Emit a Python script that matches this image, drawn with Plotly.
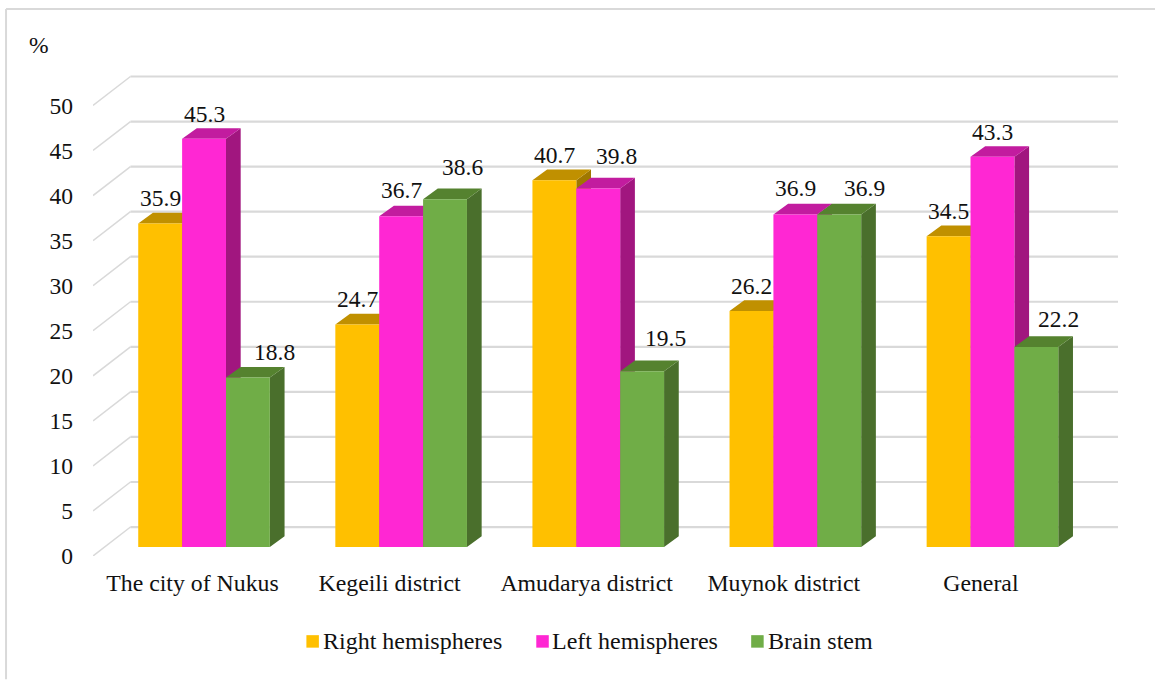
import plotly.graph_objects as go

categories = ["The city of Nukus", "Kegeili district", "Amudarya district", "Muynok district", "General"]
y_ticks = [0, 5, 10, 15, 20, 25, 30, 35, 40, 45, 50]
right_hemispheres = [35.9, 24.7, 40.7, 26.2, 34.5]
left_hemispheres = [45.3, 36.7, 39.8, 36.9, 43.3]
brain_stem = [18.8, 38.6, 19.5, 36.9, 22.2]
series_names = ["Right hemispheres", "Left hemispheres", "Brain stem"]
series_values = [right_hemispheres, left_hemispheres, brain_stem]

front_colors = ["#FFC000", "#FF27D3", "#70AD47"]
top_colors = ["#C09000", "#C21C9F", "#55822F"]
side_colors = ["#A07800", "#A1167F", "#4A6F2C"]

# data-label nudges in pixels, relative to the front-top centre of each bar
label_dx = [[0, 0, 0, 0, 0], [0, 0, 18, 0, 0], [27, 17, 23, 25, 22]]
label_up = [[26, 25, 25, 25, 25], [25, 26, 32, 27, 25], [26, 32, 33, 27, 28]]

# legend placement, in pixels
legend_swatch_px = [306, 536, 751]
legend_text_px = [323, 552, 768]
LEGEND_Y_PX = 642
SWATCH_PX = 12.5

# geometry of the picture, in pixels
W, H = 1155, 680
PL, PR, PT, PB = 92.5, 1118.0, 70.0, 556.5
PX_PER_UNIT = 9.02
PX_PER_CAT = 197.2
CAT0_PX = 203.6
BAR_BASE_PX = 547.5
BAR_W = 43.9 / PX_PER_CAT
DEPTH_X = 14.7 / PX_PER_CAT
DEPTH_Y = 10.7 / PX_PER_UNIT
WALL_X = 37.5 / PX_PER_CAT
WALL_Y = 29.0 / PX_PER_UNIT
TICK_LABEL_SHIFT = 11.6 / PX_PER_CAT

x_min = (PL - CAT0_PX) / PX_PER_CAT
x_max = (PR - CAT0_PX) / PX_PER_CAT
y_top = (PB - PT) / PX_PER_UNIT
y2_bottom = (BAR_BASE_PX - PB) / PX_PER_UNIT
y2_top = (BAR_BASE_PX - PT) / PX_PER_UNIT
positions = list(range(len(categories)))
GRID = "#D9D9D9"
FONT = "Liberation Serif"
INK = "#111111"

px_x = lambda px: (px - PL) / (PR - PL)
px_y = lambda px: (PB - px) / (PB - PT)

fig = go.Figure()

# wall gridlines and floor-to-wall diagonals
wall_x, wall_y, diag_x, diag_y = [], [], [], []
for t in y_ticks:
    wall_x += [x_min + WALL_X, x_max, None]
    wall_y += [t + WALL_Y, t + WALL_Y, None]
    diag_x += [x_min, x_min + WALL_X, None]
    diag_y += [t, t + WALL_Y, None]
fig.add_trace(go.Scatter(x=wall_x, y=wall_y, mode="lines", line=dict(color=GRID, width=2.2),
                         hoverinfo="skip", showlegend=False, yaxis="y"))
fig.add_trace(go.Scatter(x=diag_x, y=diag_y, mode="lines", line=dict(color=GRID, width=1.5),
                         hoverinfo="skip", showlegend=False, yaxis="y"))

# bars and their depth faces
for k, (name, values) in enumerate(zip(series_names, series_values)):
    shift = (k - 1.5) * BAR_W
    top_x, top_y, side_x, side_y = [], [], [], []
    for p, v in zip(positions, values):
        xl, xr = p + shift, p + shift + BAR_W
        top_x += [xl, xl + DEPTH_X, xr + DEPTH_X, xr, xl, None]
        top_y += [v, v + DEPTH_Y, v + DEPTH_Y, v, v, None]
        side_x += [xr, xr + DEPTH_X, xr + DEPTH_X, xr, xr, None]
        side_y += [0, DEPTH_Y, v + DEPTH_Y, v, 0, None]
    fig.add_trace(go.Scatter(x=side_x, y=side_y, mode="lines", fill="toself", fillcolor=side_colors[k],
                             line=dict(width=0), hoverinfo="skip", showlegend=False, yaxis="y2",
                             zorder=2 * k))
    fig.add_trace(go.Scatter(x=top_x, y=top_y, mode="lines", fill="toself", fillcolor=top_colors[k],
                             line=dict(width=0), hoverinfo="skip", showlegend=False, yaxis="y2",
                             zorder=2 * k))
    fig.add_trace(go.Bar(x=positions, y=values, name=name, showlegend=False,
                         marker=dict(color=front_colors[k], line=dict(width=0)),
                         width=BAR_W, offset=shift, yaxis="y2", zorder=2 * k + 1))
    for p, v, dx, up in zip(positions, values, label_dx[k], label_up[k]):
        fig.add_annotation(x=p + shift + BAR_W / 2, y=v, xref="x", yref="y2", text=f"{v:.1f}", showarrow=False,
                           xshift=dx, yshift=up, font=dict(family=FONT, size=23.5, color=INK))
    # legend entry
    fig.add_shape(type="rect", xref="paper", yref="paper",
                  x0=px_x(legend_swatch_px[k]), x1=px_x(legend_swatch_px[k] + SWATCH_PX),
                  y0=px_y(LEGEND_Y_PX - SWATCH_PX / 2), y1=px_y(LEGEND_Y_PX + SWATCH_PX / 2),
                  fillcolor=front_colors[k], line=dict(width=0))
    fig.add_annotation(x=px_x(legend_text_px[k]), y=px_y(LEGEND_Y_PX), xref="paper", yref="paper", text=name,
                       showarrow=False, xanchor="left", yanchor="middle", borderpad=0, borderwidth=0,
                       font=dict(family=FONT, size=24, color=INK))

fig.add_annotation(x=px_x(38), y=px_y(45), xref="paper", yref="paper", text="%", xanchor="center", yanchor="middle",
                   showarrow=False, font=dict(family=FONT, size=23.5, color=INK))

# chart border: top and left edges only
fig.add_shape(type="line", xref="paper", yref="paper", x0=px_x(5.5), x1=px_x(W), y0=px_y(9), y1=px_y(9),
              line=dict(color=GRID, width=2))
fig.add_shape(type="line", xref="paper", yref="paper", x0=px_x(5.5), x1=px_x(5.5), y0=px_y(9), y1=px_y(H),
              line=dict(color=GRID, width=2))

fig.update_layout(
    width=W, height=H,
    margin=dict(l=PL, r=W - PR, t=PT, b=H - PB, pad=0, autoexpand=False),
    paper_bgcolor="white", plot_bgcolor="white",
    barmode="overlay",
    showlegend=False,
    font=dict(family=FONT, color=INK, size=23.5),
    xaxis=dict(range=[x_min, x_max], tickmode="array", tickvals=[p - TICK_LABEL_SHIFT for p in positions],
               ticktext=categories, showgrid=False, zeroline=False, showline=False, ticks="",
               ticklabelstandoff=10, tickfont=dict(family=FONT, size=23.8, color=INK)),
    yaxis=dict(range=[0, y_top], tickmode="array", tickvals=y_ticks, showgrid=False, zeroline=False,
               showline=False, ticks="", ticklabelstandoff=19, tickfont=dict(family=FONT, size=23.5, color=INK)),
    yaxis2=dict(range=[y2_bottom, y2_top], overlaying="y", visible=False, showgrid=False, zeroline=False),
)

fig.write_html("out.html", config={"displayModeBar": False},
               post_script="document.body.style.margin='0';document.documentElement.style.overflow='hidden';")
